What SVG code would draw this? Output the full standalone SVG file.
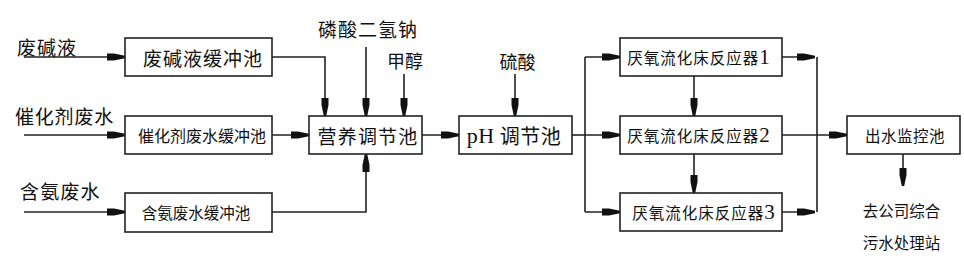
<svg xmlns="http://www.w3.org/2000/svg" width="964" height="267" viewBox="0 0 964 267">
<style>
.box{fill:#fff;stroke:#222;stroke-width:1.6}
.ln{fill:none;stroke:#222;stroke-width:1.6}
.t{font-family:"Noto Sans CJK SC","Liberation Serif",sans-serif;fill:#111;dominant-baseline:central;text-anchor:middle}
.lab{font-family:"Noto Sans CJK SC",sans-serif;fill:#111;dominant-baseline:central}
.num{font-family:"Liberation Serif",serif}
</style>
<defs>
<marker id="ah" markerUnits="userSpaceOnUse" markerWidth="18" markerHeight="8" viewBox="0 -4 18 8" refX="18" refY="0" orient="auto">
<path d="M0,-3.5 L7,-3.5 L18,-1.2 L18,1.2 L7,3.5 L0,3.5 Z" fill="#111"/>
</marker>
</defs>
<rect width="964" height="267" fill="#fff"/>

<g id="connectors">
<path class="ln" d="M24,57 H125" marker-end="url(#ah)"/>
<path class="ln" d="M24,135 H125" marker-end="url(#ah)"/>
<path class="ln" d="M24,212 H125" marker-end="url(#ah)"/>
<path class="ln" d="M272,57 H325 V116" marker-end="url(#ah)"/>
<path class="ln" d="M366,47 V116" marker-end="url(#ah)"/>
<path class="ln" d="M404,74 V116" marker-end="url(#ah)"/>
<path class="ln" d="M272,135 H309" marker-end="url(#ah)"/>
<path class="ln" d="M272,212 H366 V154" marker-end="url(#ah)"/>
<path class="ln" d="M422,135 H459" marker-end="url(#ah)"/>
<path class="ln" d="M515,74 V116" marker-end="url(#ah)"/>
<path class="ln" d="M572,135 H585"/>
<path class="ln" d="M585,57 V212"/>
<path class="ln" d="M585,57 H620" marker-end="url(#ah)"/>
<path class="ln" d="M585,135 H620" marker-end="url(#ah)"/>
<path class="ln" d="M585,212 H620" marker-end="url(#ah)"/>
<path class="ln" d="M694,76 V116" marker-end="url(#ah)"/>
<path class="ln" d="M694,154 V193" marker-end="url(#ah)"/>
<path class="ln" d="M782,57 H815" marker-end="url(#ah)"/>
<path class="ln" d="M782,212 H815" marker-end="url(#ah)"/>
<path class="ln" d="M817,57 V212"/>
<path class="ln" d="M782,135 H847" marker-end="url(#ah)"/>
<path class="ln" d="M903,154 V186" marker-end="url(#ah)"/>
</g>

<g id="labels">
<text class="lab" x="17" y="46" font-size="19" letter-spacing="1">废碱液</text>
<text class="lab" x="15" y="115.5" font-size="19" letter-spacing="0.8">催化剂废水</text>
<text class="lab" x="20" y="190" font-size="19" letter-spacing="1.2">含氨废水</text>
<text class="t" x="368" y="28" font-size="19" letter-spacing="1">磷酸二氢钠</text>
<text class="t" x="405" y="60" font-size="18">甲醇</text>
<text class="t" x="517.5" y="61" font-size="18">硫酸</text>
<text class="t" x="901.5" y="210" font-size="15.5">去公司综合</text>
<text class="t" x="901.5" y="242" font-size="15.5">污水处理站</text>
</g>

<g id="buf1"><rect class="box" x="125" y="38" width="147" height="38"/><text class="t" x="203" y="57" font-size="19" letter-spacing="1">废碱液缓冲池</text></g>
<g id="buf2"><rect class="box" x="125" y="116" width="147" height="38"/><text class="t" x="202" y="135" font-size="16">催化剂废水缓冲池</text></g>
<g id="buf3"><rect class="box" x="125" y="193" width="147" height="39"/><text class="t" x="196" y="212" font-size="15.5">含氨废水缓冲池</text></g>
<g id="nutrient"><rect class="box" x="309" y="116" width="113" height="38"/><text class="t" x="368" y="135" font-size="19" letter-spacing="1.2">营养调节池</text></g>
<g id="ph"><rect class="box" x="459" y="116" width="113" height="38"/><text class="t" x="514" y="135" font-size="20" letter-spacing="0.5"><tspan class="num" font-size="22">pH</tspan> 调节池</text></g>
<g id="r1"><rect class="box" x="620" y="38" width="162" height="38"/><text class="t" x="699" y="57" font-size="15.5" letter-spacing="1">厌氧流化床反应器<tspan class="num" font-size="21">1</tspan></text></g>
<g id="r2"><rect class="box" x="620" y="116" width="162" height="38"/><text class="t" x="699" y="135" font-size="15.5" letter-spacing="1">厌氧流化床反应器<tspan class="num" font-size="21">2</tspan></text></g>
<g id="r3"><rect class="box" x="620" y="193" width="162" height="38"/><text class="t" x="704" y="212" font-size="15.5" letter-spacing="1">厌氧流化床反应器<tspan class="num" font-size="21">3</tspan></text></g>
<g id="outlet"><rect class="box" x="847" y="116" width="113" height="38"/><text class="t" x="905" y="135" font-size="15.5" letter-spacing="0.5">出水监控池</text></g>
</svg>
